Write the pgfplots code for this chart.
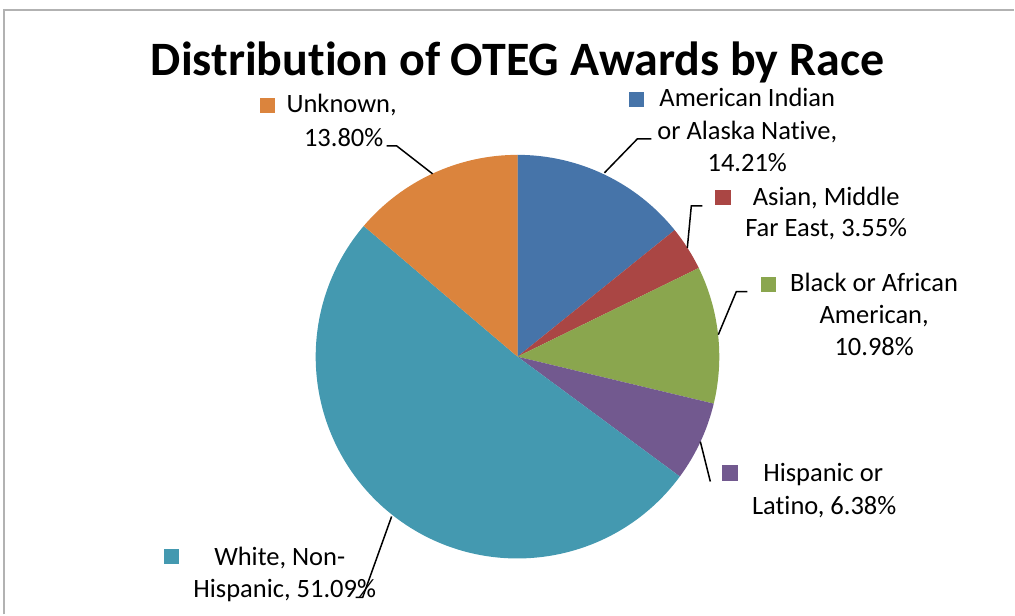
\documentclass[border=0pt]{standalone}
\usepackage{pgfplots}
\pgfplotsset{compat=1.18}
\usepackage{pgfplotstable}
\usepackage{fontspec}
\setmainfont{Carlito}[Ligatures=NoCommon]

\definecolor{cAmInd}{HTML}{4674A9}
\definecolor{cAsian}{HTML}{AA4644}
\definecolor{cBlack}{HTML}{8AA64E}
\definecolor{cHisp}{HTML}{72598F}
\definecolor{cWhite}{HTML}{4499B0}
\definecolor{cUnk}{HTML}{DB843D}

% share of OTEG awards (percent), clockwise from 12 o'clock
\pgfplotstableread{
value color
14.21 cAmInd
3.55  cAsian
10.98 cBlack
6.38  cHisp
51.09 cWhite
13.80 cUnk
}\racedata

% start / end angle of every slice
\def\cumangle{90}
\foreach \i in {0,...,5}{
  \pgfplotstablegetelem{\i}{value}\of\racedata
  \pgfmathsetmacro{\endangle}{\cumangle-3.6*\pgfplotsretval}
  \expandafter\xdef\csname sa\i\endcsname{\cumangle}
  \expandafter\xdef\csname ea\i\endcsname{\endangle}
  \pgfplotstablegetelem{\i}{color}\of\racedata
  \expandafter\xdef\csname col\i\endcsname{\pgfplotsretval}
  \xdef\cumangle{\endangle}
}

\tikzset{
  lbl/.style={font=\fontsize{26.5}{30}\selectfont, anchor=base, inner sep=0pt},
  leader/.style={black, line width=1.5pt},
}

\begin{document}
\begin{tikzpicture}
\begin{axis}[
    scale only axis,
    width=1015pt, height=615pt,
    xmin=0, xmax=1015, ymin=0, ymax=615,
    y dir=reverse,
    hide axis, clip=false,
]
\path (axis cs:0,0) rectangle (axis cs:1015,615);
\draw[gray!60, line width=2pt] (axis cs:4,615) -- (axis cs:4,10) -- (axis cs:1015,10);

% slices
\pgfplotsinvokeforeach{0,...,5}{
  \fill[\csname col#1\endcsname] (axis cs:518,357) -- ++(\csname sa#1\endcsname:202pt)
    arc[start angle=\csname sa#1\endcsname, end angle=\csname ea#1\endcsname, radius=202pt] -- cycle;
}

\node[font=\fontsize{48}{52}\selectfont\bfseries, anchor=base, inner sep=0pt]
  at (axis cs:518,76) {Distribution of OTEG Awards by Race};

% American Indian
\fill[cAmInd] (axis cs:630,92) rectangle (axis cs:645,107);
\node[lbl] at (axis cs:748,107) {American Indian};
\node[lbl] at (axis cs:748,140) {or Alaska Native,};
\node[lbl] at (axis cs:748,172) {14.21\%};
\draw[leader] (axis cs:652,139) -- (axis cs:638,139) -- (axis cs:605,173);

% Asian
\fill[cAsian] (axis cs:716,190) rectangle (axis cs:732,205);
\node[lbl] at (axis cs:827,206) {Asian, Middle};
\node[lbl] at (axis cs:827,237) {Far East, 3.55\%};
\draw[leader] (axis cs:703,206) -- (axis cs:692,206) -- (axis cs:688,248);

% Black
\fill[cBlack] (axis cs:762,277) rectangle (axis cs:777,292);
\node[lbl] at (axis cs:875,292) {Black or African};
\node[lbl] at (axis cs:875,324) {American,};
\node[lbl] at (axis cs:875,356) {10.98\%};
\draw[leader] (axis cs:748,292) -- (axis cs:737,292) -- (axis cs:719,335);

% Hispanic
\fill[cHisp] (axis cs:723,465) rectangle (axis cs:739,481);
\node[lbl] at (axis cs:824,482) {Hispanic or};
\node[lbl] at (axis cs:825,515) {Latino, 6.38\%};
\draw[leader] (axis cs:701,442) -- (axis cs:711,482);

% White
\fill[cWhite] (axis cs:164,550) rectangle (axis cs:179,565);
\node[lbl] at (axis cs:280,566) {White, Non-};
\node[lbl] at (axis cs:285,598) {Hispanic, 51.09\%};
\draw[leader] (axis cs:392,517) -- (axis cs:363,598) -- (axis cs:356,598);

% Unknown
\fill[cUnk] (axis cs:260,98) rectangle (axis cs:275,113);
\node[lbl] at (axis cs:342,113) {Unknown,};
\node[lbl] at (axis cs:344,147) {13.80\%};
\draw[leader] (axis cs:387,146) -- (axis cs:397,146) -- (axis cs:433,174);
\end{axis}
\end{tikzpicture}
\end{document}
